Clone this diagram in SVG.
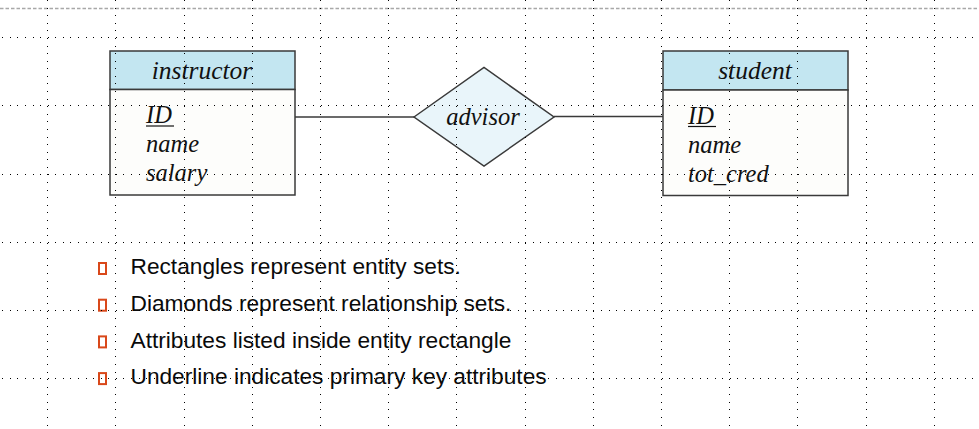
<svg xmlns="http://www.w3.org/2000/svg" width="979" height="429" viewBox="0 0 979 429">
<style>
.box{stroke:#3a3a3a;stroke-width:1.5}
.hdr{fill:#c3e6f1}
.body{fill:#fdfdfb}
.er{font-family:"Liberation Serif","Times New Roman",serif;font-style:italic;font-size:24.5px;fill:#111111}
.ttl{font-size:25.5px}
.conn{stroke:#3a3a3a;stroke-width:1.4;fill:none}
.ul{stroke:#111111;stroke-width:1.2}
.bul{fill:none;stroke:#d9481a;stroke-width:2}
.bt{font-family:"Liberation Sans",Arial,sans-serif;font-size:22.7px;fill:#0a0a0a}
.vg{stroke:#000;stroke-width:1;stroke-dasharray:1 6.58}
</style>
<rect width="979" height="429" fill="#ffffff"/>
<line x1="0" y1="8.5" x2="979" y2="8.5" stroke="#a8a8a8" stroke-width="1.3" stroke-dasharray="3.5 2"/>

<g id="connectors">
<line class="conn" x1="295" y1="117" x2="414" y2="117"/>
<line class="conn" x1="554" y1="116.5" x2="663" y2="116.5"/>
</g>

<g id="instructor">
<rect class="box hdr" x="110" y="51" width="185" height="38.5"/>
<rect class="box body" x="110" y="89.5" width="185" height="105.5"/>
<text class="er ttl" x="202" y="78.5" text-anchor="middle">instructor</text>
<text class="er" x="146" y="123">ID</text>
<line class="ul" x1="146" y1="126" x2="174" y2="126"/>
<text class="er" x="146" y="152">name</text>
<text class="er" x="146" y="181">salary</text>
</g>

<g id="advisor">
<polygon class="box" fill="#e9f5fa" points="414,117 484,67.5 554,117 484,166"/>
<text class="er" x="483" y="125" text-anchor="middle">advisor</text>
</g>

<g id="student">
<rect class="box hdr" x="663" y="51" width="185" height="39"/>
<rect class="box body" x="663" y="90" width="185" height="105.5"/>
<text class="er ttl" x="755" y="78.5" text-anchor="middle">student</text>
<text class="er" x="688" y="123.5">ID</text>
<line class="ul" x1="688" y1="126.5" x2="716" y2="126.5"/>
<text class="er" x="688" y="153">name</text>
<text class="er" x="688" y="182">tot_cred</text>
</g>

<g id="bullets">
<rect class="bul" x="99" y="263" width="7" height="11"/>
<text class="bt" x="130.5" y="274.3">Rectangles represent entity sets.</text>
<rect class="bul" x="99" y="299.7" width="7" height="11"/>
<text class="bt" x="130.5" y="311">Diamonds represent relationship sets.</text>
<rect class="bul" x="99" y="336.4" width="7" height="11"/>
<text class="bt" x="130.5" y="347.7">Attributes listed inside entity rectangle</text>
<rect class="bul" x="99" y="373.1" width="7" height="11"/>
<text class="bt" x="130.5" y="384.4">Underline indicates primary key attributes</text>
</g>

<g id="grid" shape-rendering="crispEdges">
<line class="vg" x1="47.7" y1="0.1" x2="47.7" y2="429"/>
<line class="vg" x1="115.9" y1="0.1" x2="115.9" y2="429"/>
<line class="vg" x1="184.1" y1="0.1" x2="184.1" y2="429"/>
<line class="vg" x1="252.3" y1="0.1" x2="252.3" y2="429"/>
<line class="vg" x1="320.5" y1="0.1" x2="320.5" y2="429"/>
<line class="vg" x1="388.7" y1="0.1" x2="388.7" y2="429"/>
<line class="vg" x1="456.9" y1="0.1" x2="456.9" y2="429"/>
<line class="vg" x1="525.1" y1="0.1" x2="525.1" y2="429"/>
<line class="vg" x1="593.3" y1="0.1" x2="593.3" y2="429"/>
<line class="vg" x1="661.5" y1="0.1" x2="661.5" y2="429"/>
<line class="vg" x1="729.7" y1="0.1" x2="729.7" y2="429"/>
<line class="vg" x1="797.9" y1="0.1" x2="797.9" y2="429"/>
<line class="vg" x1="866.1" y1="0.1" x2="866.1" y2="429"/>
<line class="vg" x1="934.3" y1="0.1" x2="934.3" y2="429"/>
<line class="vg" x1="2.2" y1="37.7" x2="979" y2="37.7"/>
<line class="vg" x1="2.2" y1="105.9" x2="979" y2="105.9"/>
<line class="vg" x1="2.2" y1="174.1" x2="979" y2="174.1"/>
<line class="vg" x1="2.2" y1="242.3" x2="979" y2="242.3"/>
<line class="vg" x1="2.2" y1="310.5" x2="979" y2="310.5"/>
<line class="vg" x1="2.2" y1="378.7" x2="979" y2="378.7"/>
</g>
</svg>
